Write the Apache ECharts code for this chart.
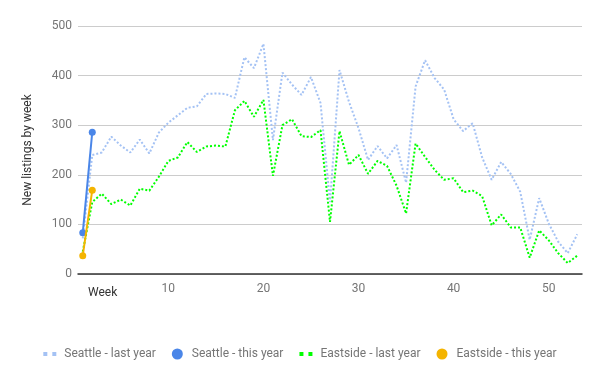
<!DOCTYPE html>
<html>
<head>
<meta charset="utf-8">
<script src="https://cdn.jsdelivr.net/npm/echarts@6/dist/echarts.min.js"></script>
<style>
  html, body { margin: 0; padding: 0; background: #fff; }
  #chart { width: 600px; height: 371px; }
</style>
</head>
<body>
<div id="chart"></div>
<script>
const weeks = [1,2,3,4,5,6,7,8,9,10,11,12,13,14,15,16,17,18,19,20,21,22,23,24,25,26,27,28,29,30,31,32,33,34,35,36,37,38,39,40,41,42,43,44,45,46,47,48,49,50,51,52,53];
const xTickLabels = [10, 20, 30, 40, 50];
const yTicks = [0, 100, 200, 300, 400, 500];

const seattleLastYear = [72,240,245,277,259,245,271,243,285,305,320,335,338,363,364,363,355,437,415,464,270,406,382,361,397,345,145,411,347,294,230,258,233,260,184,378,431,395,372,312,288,304,235,190,226,202,166,69,153,102,65,42,80];
const seattleThisYear = [83, 286];
const eastsideLastYear = [45,145,162,141,150,138,172,168,196,228,235,266,246,257,259,257,330,349,317,351,198,300,312,278,276,290,105,288,220,240,202,228,218,178,122,263,236,210,190,193,165,168,157,98,120,94,94,33,88,68,42,22,37];
const eastsideThisYear = [37, 169];

const seriesNames = ['Seattle - last year', 'Seattle - this year', 'Eastside - last year', 'Eastside - this year'];
const colors = ['#a4c2f4', '#4a86e8', '#00ff00', '#f4b400'];

const chart = echarts.init(document.getElementById('chart'), null, { renderer: 'canvas' });
const dotIcon = 'path://M0,0h4v4h-4zM9,0h4v4h-4z';

chart.setOption({
  animation: false,
  textStyle: { fontFamily: 'Roboto' },
  grid: { left: 78, right: 18, top: 26, bottom: 97 },
  legend: {
    top: 343,
    left: 'center',
    itemWidth: 13,
    itemHeight: 11,
    itemGap: 16,
    textStyle: { color: '#757575', fontSize: 12, fontFamily: 'Roboto', padding: [0, 0, 0, 3] },
    data: [
      { name: seriesNames[0], icon: dotIcon, itemStyle: { color: colors[0] } },
      { name: seriesNames[1], icon: 'circle', itemStyle: { color: colors[1] } },
      { name: seriesNames[2], icon: dotIcon, itemStyle: { color: colors[2] } },
      { name: seriesNames[3], icon: 'circle', itemStyle: { color: colors[3] } }
    ]
  },
  xAxis: {
    type: 'category',
    data: weeks,
    boundaryGap: true,
    axisLine: { show: true, lineStyle: { color: '#333', width: 1.5 } },
    axisTick: { show: false },
    axisLabel: {
      color: '#757575', fontSize: 12, margin: 9,
      interval: function (idx, val) { return xTickLabels.indexOf(Number(val)) !== -1; }
    },
    splitLine: { show: false }
  },
  yAxis: {
    type: 'value',
    min: yTicks[0],
    max: yTicks[yTicks.length - 1],
    interval: 100,
    name: 'New listings by week',
    nameLocation: 'middle',
    nameGap: 44,
    nameTextStyle: { color: '#333', fontSize: 12 },
    axisLine: { show: false },
    axisTick: { show: false },
    axisLabel: { color: '#757575', fontSize: 12, margin: 6 },
    splitLine: { lineStyle: { color: '#cccccc', width: 1 } }
  },
  graphic: [
    {
      type: 'text', left: 88, top: 287,
      style: { text: 'Week', fill: '#333', font: '12px Roboto' }
    }
  ],
  series: [
    {
      name: seriesNames[0], type: 'line', data: seattleLastYear,
      symbol: 'none', z: 2,
      lineStyle: { color: colors[0], width: 2, type: [2, 2] },
      itemStyle: { color: colors[0] }
    },
    {
      name: seriesNames[1], type: 'line', data: seattleThisYear,
      symbol: 'circle', symbolSize: 7, showSymbol: true, showAllSymbol: true, z: 4,
      lineStyle: { color: colors[1], width: 2 },
      itemStyle: { color: colors[1] }
    },
    {
      name: seriesNames[2], type: 'line', data: eastsideLastYear,
      symbol: 'none', z: 3,
      lineStyle: { color: colors[2], width: 2, type: [2, 2] },
      itemStyle: { color: colors[2] }
    },
    {
      name: seriesNames[3], type: 'line', data: eastsideThisYear,
      symbol: 'circle', symbolSize: 7, showSymbol: true, showAllSymbol: true, z: 5,
      lineStyle: { color: colors[3], width: 2 },
      itemStyle: { color: colors[3] }
    }
  ]
});
</script>
</body>
</html>
